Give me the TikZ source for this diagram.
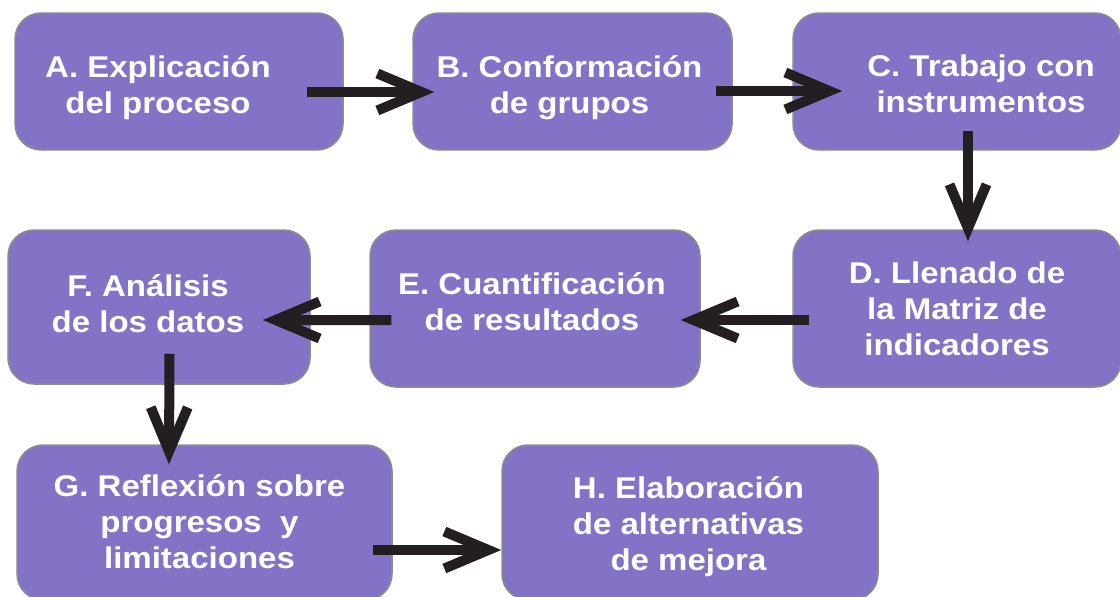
\documentclass[tikz,border=0pt]{standalone}
\usepackage{fontspec}
\setmainfont{Liberation Sans}[FakeStretch=1.1]
\usetikzlibrary{arrows.meta}

\definecolor{lila}{RGB}{132,114,199}
\definecolor{borde}{RGB}{140,140,140}
\definecolor{negro}{RGB}{35,31,32}

\tikzset{
  paso/.style={draw=borde, line width=0.85pt, fill=lila, rounded corners=0.52cm, inner sep=0pt},
  rotulo/.style={text=white, font=\fontsize{17.07}{20.5}\selectfont\bfseries, align=center, inner sep=0pt},
  flecha/.style={draw=negro, line width=0.2cm, -{Straight Barb[length=0.88cm,width=0.74cm]}}
}

\begin{document}
\begin{tikzpicture}
        \useasboundingbox (0,0) rectangle (22.4,-11.92);
        \clip (0,0) rectangle (22.4,-11.92);
        % cajas
        \node [paso, minimum width=6.56cm, minimum height=2.74cm] (A) at (3.58,-1.63) {};
        \node [paso, minimum width=6.38cm, minimum height=2.74cm] (B) at (11.45,-1.63) {};
        \node [paso, minimum width=6.56cm, minimum height=2.74cm] (C) at (19.14,-1.63) {};
        \node [paso, minimum width=6.56cm, minimum height=3.14cm] (D) at (19.14,-6.17) {};
        \node [paso, minimum width=6.60cm, minimum height=3.14cm] (E) at (10.70,-6.17) {};
        \node [paso, minimum width=6.04cm, minimum height=3.08cm] (F) at (3.18,-6.14) {};
        \node [paso, minimum width=7.50cm, minimum height=3.10cm] (G) at (4.09,-10.45) {};
        \node [paso, minimum width=7.52cm, minimum height=3.10cm] (H) at (13.80,-10.45) {};
        % textos
        \node [rotulo] (tA) at ([xshift=-0.42cm,yshift=-0.13cm]A.center) {A. Explicación\\del proceso};
        \node [rotulo] (tB) at ([xshift=-0.06cm,yshift=-0.12cm]B.center) {B. Conformación\\de grupos};
        \node [rotulo] (tC) at ([xshift=0.48cm,yshift=-0.04cm]C.center) {C. Trabajo con\\instrumentos};
        \node [rotulo] (tD) at (D.center) {D. Llenado de\\la Matriz de\\indicadores};
        \node [rotulo] (tE) at ([xshift=-0.06cm,yshift=0.14cm]E.center) {E. Cuantificación\\de resultados};
        \node [rotulo] (tF) at ([xshift=-0.22cm,yshift=0.07cm]F.center) {F. Análisis\\de los datos};
        \node [rotulo] (tG) at ([xshift=-0.10cm,yshift=0.01cm]G.center) {G. Reflexión sobre\\progresos\ \ y\\limitaciones};
        \node [rotulo] (tH) at ([xshift=-0.03cm,yshift=-0.09cm]H.center) {H. Elaboración\\de alternativas\\de mejora};
        % flechas
        \draw [flecha] ([xshift=-0.74cm,yshift=-0.21cm]A.east) -- ([xshift=0.44cm,yshift=-0.21cm]B.west);
        \draw [flecha] ([xshift=-0.34cm,yshift=-0.19cm]B.east) -- ([xshift=1.0cm,yshift=-0.19cm]C.west);
        \draw [flecha] ([xshift=0.22cm,yshift=0.4cm]C.south) -- ([xshift=0.22cm,yshift=-0.24cm]D.north);
        \draw [flecha] ([xshift=0.34cm,yshift=-0.23cm]D.west) -- ([xshift=-0.4cm,yshift=-0.23cm]E.east);
        \draw [flecha] ([xshift=0.44cm,yshift=-0.23cm]E.west) -- ([xshift=-0.96cm,yshift=-0.26cm]F.east);
        \draw [flecha] ([xshift=0.21cm,yshift=0.62cm]F.south) -- ([xshift=-0.71cm,yshift=-0.4cm]G.north);
        \draw [flecha] ([xshift=-0.4cm,yshift=-0.55cm]G.east) -- ([yshift=-0.55cm]H.west);
    \end{tikzpicture}
\end{document}
